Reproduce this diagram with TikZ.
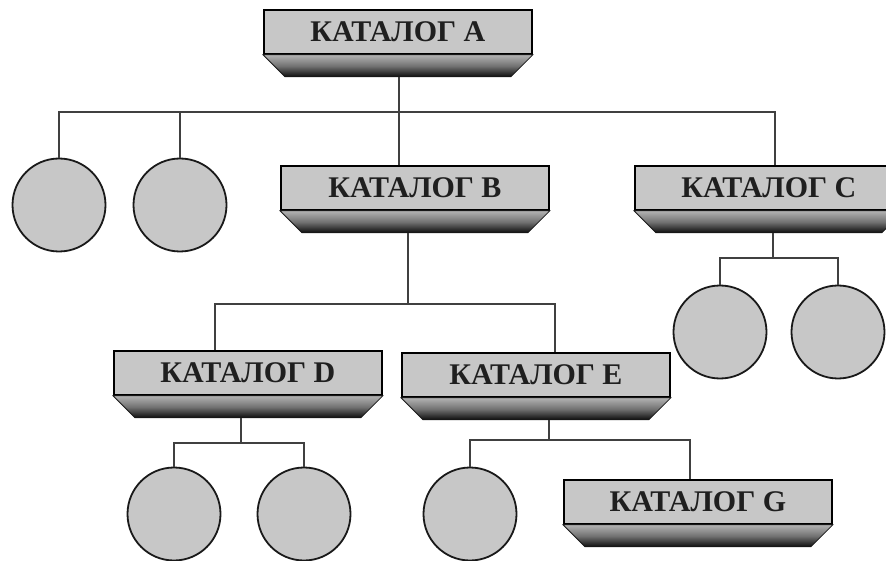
\documentclass[tikz,border=0pt]{standalone}
\usepackage{fontspec}
\setmainfont{Liberation Serif}
\begin{document}
\begin{tikzpicture}[x=1pt,y=-1pt,
  catbox/.style={draw=black, line width=1.8pt, fill=black!22, minimum width=268pt, minimum height=44pt,
    inner sep=0pt, anchor=north west, font=\bfseries\fontsize{30}{30}\selectfont, text=black!88},
  leaf/.style={circle, draw=black!90, line width=1.8pt, fill=black!22, minimum size=93pt, inner sep=0pt},
  link/.style={draw=black!75, line width=1.8pt},
  trap/.style={top color=black!30, bottom color=black!95, middle color=black!55, draw=black!90, line width=0.8pt}]
\useasboundingbox (0,0) rectangle (886,561);
\clip (0,0) rectangle (886,561);
\newcommand{\catbox}[4]{%
  \node[catbox] (#1) at (#2,#3) {#4};
  \shade[trap] (#1.south west) -- (#1.south east) -- ([shift={(-22,22)}]#1.south east) -- ([shift={(22,22)}]#1.south west) -- cycle;
  \coordinate (#1-b) at ([yshift=-22pt]#1.south);}
% boxes
\catbox{A}{263}{9}{КАТАЛОГ А}
\catbox{B}{280}{165}{КАТАЛОГ В}
\catbox{C}{634}{165}{КАТАЛОГ С}
\catbox{D}{113}{350}{КАТАЛОГ D}
\catbox{E}{401}{352}{КАТАЛОГ Е}
\catbox{G}{563}{479}{КАТАЛОГ G}
% circles
\node[leaf] (c1) at (59,205) {};
\node[leaf] (c2) at (180,205) {};
\node[leaf] (c3) at (720,332) {};
\node[leaf] (c4) at (838,332) {};
\node[leaf] (c5) at (174,514) {};
\node[leaf] (c6) at (304,514) {};
\node[leaf] (c7) at (470,514) {};
% bus coordinates
\coordinate (busA) at (399,112);
\coordinate (busB) at (408,304);
\coordinate (busC) at (773,258);
\coordinate (busD) at (241,443);
\coordinate (busE) at (549,440);
% connectors
\draw[link] (busA |- A-b) -- (busA);
\draw[link] (c1.north) |- (busA);
\draw[link] (c2.north) -- (c2.north |- busA);
\draw[link] (busA) -- (busA |- B.north);
\draw[link] (busA) -| ([xshift=6pt]C.north);
\draw[link] (busB |- B-b) -- (busB);
\draw[link] ([xshift=-33pt]D.north) |- (busB) -| ([xshift=19pt]E.north);
\draw[link] (busC |- C-b) -- (busC);
\draw[link] (c3.north) |- (busC) -| (c4.north);
\draw[link] (busD |- D-b) -- (busD);
\draw[link] (c5.north) |- (busD) -| (c6.north);
\draw[link] (busE |- E-b) -- (busE);
\draw[link] (c7.north) |- (busE) -| ([xshift=-8pt]G.north);
\end{tikzpicture}
\end{document}
